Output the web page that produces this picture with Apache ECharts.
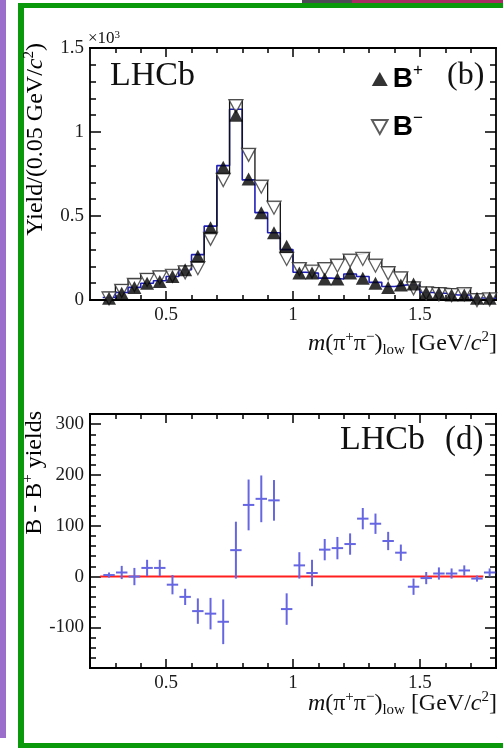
<!DOCTYPE html>
<html>
<head>
<meta charset="utf-8">
<script src="https://cdn.jsdelivr.net/npm/echarts@6/dist/echarts.min.js"></script>
<style>
html,body{margin:0;padding:0;background:#fff;}
#chart{width:503px;height:748px;}
</style>
</head>
<body>
<div id="chart"></div>
<script>
// m(pi+ pi-)_low bin centres, 0.05 GeV/c^2 wide bins
const binCentres = [0.275, 0.325, 0.375, 0.425, 0.475, 0.525, 0.575, 0.625, 0.675, 0.725,
                    0.775, 0.825, 0.875, 0.925, 0.975, 1.025, 1.075, 1.125, 1.175, 1.225,
                    1.275, 1.325, 1.375, 1.425, 1.475, 1.525, 1.575, 1.625, 1.675, 1.725, 1.775];
const binWidth = 0.05;

// Panel (b): yields per bin
const yieldBplus  = [10, 40, 75, 100, 110, 140, 180, 260, 430, 790,
                     1100, 720, 520, 400, 320, 160, 160, 125, 125, 160,
                     130, 100, 75, 90, 95, 45, 40, 30, 30, 10, 10];
const yieldBminus = [45, 90, 125, 155, 170, 180, 200, 225, 400, 750,
                     1190, 900, 710, 585, 280, 220, 205, 220, 240, 270,
                     280, 240, 195, 165, 105, 75, 70, 65, 70, 35, 40];
const fitBplus    = [15, 45, 75, 100, 115, 140, 180, 270, 440, 800,
                     1135, 715, 520, 400, 300, 165, 160, 130, 125, 155,
                     140, 105, 80, 90, 90, 45, 40, 30, 30, 12, 10];

// Panel (d): B- minus B+ yields with uncertainties
const yieldDiff = [3, 8, 0, 17, 17, -16, -40, -68, -73, -89,
                   52, 141, 153, 150, -64, 22, 7, 53, 56, 64,
                   114, 104, 70, 47, -20, -3, 6, 6, 12, -4, 8];
const yieldDiffErr = [5, 13, 17, 16, 16, 19, 16, 25, 31, 44,
                      56, 50, 46, 40, 31, 26, 26, 21, 22, 21,
                      21, 20, 18, 16, 16, 12, 12, 10, 10, 6, 8];
const zeroLine = [[0.24, 0], [1.75, 0]];

// Tick positions
const xMajorTicks = [0.5, 1, 1.5];
const xMinorTicks = [0.3, 0.4, 0.6, 0.7, 0.8, 0.9, 1.1, 1.2, 1.3, 1.4, 1.6, 1.7];
const yDiffMajorTicks = [-100, 0, 100, 200, 300];
const yDiffMinorTicks = [-160, -140, -120, -80, -60, -40, -20, 20, 40, 60, 80,
                         120, 140, 160, 180, 220, 240, 260, 280];

const SERIF = 'Liberation Serif';
const SANS = 'Liberation Sans';
const INK = '#000';

const labelStyle = {fontFamily: SERIF, fontSize: 19, color: '#1c1c1c'};

function tickAxis(base, position, ticks, len, labels) {
  const ax = Object.assign({}, base, {
    position: position,
    splitLine: {show: false},
    axisLine: {show: true, onZero: false, lineStyle: {color: INK, width: 1.8}},
    axisTick: {show: true, inside: true, length: len, customValues: ticks,
               lineStyle: {color: INK, width: 1.5}},
    axisLabel: {show: false}
  });
  if (labels) {
    ax.axisLabel = Object.assign({show: true, customValues: ticks, margin: 6,
                                  formatter: labels}, labelStyle);
  }
  return ax;
}

function xAxesFor(gridIndex) {
  const base = {type: 'value', gridIndex: gridIndex, min: 0.2, max: 1.8};
  const fmt = v => String(v);
  return [
    tickAxis(base, 'bottom', xMajorTicks, 9, fmt),
    tickAxis(base, 'bottom', xMinorTicks, 5),
    tickAxis(base, 'top', xMajorTicks, 9),
    tickAxis(base, 'top', xMinorTicks, 5)
  ];
}

// Top panel y axes: 0..1500 shown in units of 10^3
function yAxesTop() {
  const mk = (position, withLabels) => ({
    type: 'value', gridIndex: 0, min: 0, max: 1500, interval: 500, position: position,
    splitLine: {show: false},
    axisLine: {show: true, onZero: false, lineStyle: {color: INK, width: 1.8}},
    axisTick: {show: true, inside: true, length: 11, lineStyle: {color: INK, width: 1.5}},
    minorTick: {show: true, splitNumber: 5, length: 6, lineStyle: {color: INK, width: 1.5}},
    axisLabel: withLabels
      ? Object.assign({show: true, margin: 6, formatter: v => String(v / 1000)}, labelStyle)
      : {show: false}
  });
  return [mk('left', true), mk('right', false)];
}

function yAxesBottom() {
  const base = {type: 'value', gridIndex: 1, min: -180, max: 320};
  return [
    tickAxis(base, 'left', yDiffMajorTicks, 11, v => String(v)),
    tickAxis(base, 'left', yDiffMinorTicks, 6),
    tickAxis(base, 'right', yDiffMajorTicks, 11),
    tickAxis(base, 'right', yDiffMinorTicks, 6)
  ];
}

function stepPoints(values) {
  const pts = [];
  binCentres.forEach((c, i) => {
    pts.push([c - binWidth / 2, values[i]], [c + binWidth / 2, values[i]]);
  });
  return pts;
}

const titleRich = {
  n:   {fontFamily: SERIF, fontSize: 24, lineHeight: 28, color: '#1a1a1a'},
  it:  {fontFamily: SERIF, fontSize: 24, lineHeight: 28, fontStyle: 'italic', color: '#1a1a1a'},
  sup: {fontFamily: SERIF, fontSize: 15, lineHeight: 12, verticalAlign: 'top', color: '#1a1a1a'},
  sub: {fontFamily: SERIF, fontSize: 15, lineHeight: 11, verticalAlign: 'bottom', color: '#1a1a1a'}
};
const massTitle = '{it|m}{n|(π}{sup|+}{n|π}{sup|−}{n|)}{sub|low}{n| [GeV/}{it|c}{sup|2}{n|]}';

function textEl(x, y, text, extra) {
  return {
    type: 'text', x: x, y: y, z: 10,
    style: Object.assign({text: text, align: 'left', verticalAlign: 'middle',
                          fill: '#111', rich: titleRich}, extra || {})
  };
}

const chart = echarts.init(document.getElementById('chart'), null, {renderer: 'canvas'});

chart.setOption({
  animation: false,
  backgroundColor: '#fff',
  grid: [
    {left: 90, top: 48, width: 406, height: 252},
    {left: 90, top: 414, width: 406, height: 254}
  ],
  xAxis: xAxesFor(0).concat(xAxesFor(1)),
  yAxis: yAxesTop().concat(yAxesBottom()),
  legend: {
    orient: 'vertical', left: 366, top: 57, itemWidth: 16, itemHeight: 14, itemGap: 17,
    data: ['B+', 'B-'],
    formatter: n => n === 'B+' ? '{b|B}{s|+}' : '{b|B}{s|−}',
    textStyle: {
      rich: {
        b: {fontFamily: SANS, fontWeight: 'bold', fontSize: 28, lineHeight: 34, color: '#000'},
        s: {fontFamily: SANS, fontSize: 17, lineHeight: 14, verticalAlign: 'top', color: '#000'}
      }
    }
  },
  series: [
    {
      name: 'B+ fit', type: 'line', xAxisIndex: 0, yAxisIndex: 0,
      data: stepPoints(fitBplus), symbol: 'none', z: 2,
      lineStyle: {color: '#1f1fb8', width: 1.6}
    },
    {
      name: 'B- fit', type: 'line', xAxisIndex: 0, yAxisIndex: 0,
      data: stepPoints(yieldBminus), symbol: 'none', z: 2,
      lineStyle: {color: '#111', width: 1.3}
    },
    {
      name: 'B-', type: 'scatter', xAxisIndex: 0, yAxisIndex: 0,
      data: binCentres.map((c, i) => [c, yieldBminus[i]]),
      symbol: 'path://M0,0 L2,0 L1,1.8 Z', symbolSize: [14, 13], symbolOffset: [0, 6], z: 3,
      itemStyle: {color: '#fff', borderColor: '#333', borderWidth: 1.3}
    },
    {
      name: 'B+', type: 'scatter', xAxisIndex: 0, yAxisIndex: 0,
      data: binCentres.map((c, i) => [c, yieldBplus[i]]),
      symbol: 'triangle', symbolSize: [14, 13], z: 4,
      itemStyle: {color: '#000'}
    },
    {
      name: 'zero', type: 'line', xAxisIndex: 4, yAxisIndex: 4,
      data: zeroLine, symbol: 'none', z: 2,
      lineStyle: {color: '#ff1f1f', width: 2}
    },
    {
      name: 'B- - B+', type: 'custom', xAxisIndex: 4, yAxisIndex: 4, z: 3,
      data: binCentres.map((c, i) => [c, yieldDiff[i], yieldDiffErr[i]]),
      renderItem: function (params, api) {
        const x = api.value(0), y = api.value(1), e = api.value(2);
        const hw = binWidth * 0.45;
        const l = api.coord([x - hw, y]), r = api.coord([x + hw, y]);
        const t = api.coord([x, y + e]), b = api.coord([x, y - e]);
        const st = {stroke: '#6666e2', lineWidth: 2};
        return {
          type: 'group',
          children: [
            {type: 'line', shape: {x1: l[0], y1: l[1], x2: r[0], y2: r[1]}, style: st},
            {type: 'line', shape: {x1: t[0], y1: t[1], x2: b[0], y2: b[1]}, style: st}
          ]
        };
      }
    }
  ],
  graphic: [
    // slide frame
    {type: 'rect', shape: {x: 0, y: 0, width: 6, height: 738}, style: {fill: '#9b6ecb'}, z: 0},
    {type: 'rect', shape: {x: 302, y: 0, width: 50, height: 3}, style: {fill: '#4d4a55'}, z: 0},
    {type: 'rect', shape: {x: 352, y: 0, width: 151, height: 3}, style: {fill: '#a82c62'}, z: 0},
    {type: 'rect', shape: {x: 18, y: 3, width: 6, height: 745}, style: {fill: '#0a990a'}, z: 0},
    {type: 'rect', shape: {x: 18, y: 3, width: 485, height: 5}, style: {fill: '#0a990a'}, z: 0},
    {type: 'rect', shape: {x: 18, y: 743, width: 485, height: 5}, style: {fill: '#0a990a'}, z: 0},

    // panel (b) texts
    textEl(88, 39, '{n|×10}{sup|3}', {rich: {
      n: {fontFamily: SERIF, fontSize: 17, lineHeight: 18, color: '#222'},
      sup: {fontFamily: SERIF, fontSize: 11, lineHeight: 9, verticalAlign: 'top', color: '#222'}
    }}),
    textEl(110, 76, 'LHCb', {font: '34px "Liberation Serif"', fill: '#111'}),
    textEl(447, 76, '(b)', {font: '32px "Liberation Serif"', fill: '#111'}),
    {
      type: 'text', x: 36, y: 43, rotation: Math.PI / 2, z: 10,
      style: {text: '{n|Yield/(0.05 GeV/}{it|c}{sup|2}{n|)}', rich: titleRich,
              align: 'right', verticalAlign: 'middle'}
    },
    textEl(497, 344, massTitle, {align: 'right'}),

    // panel (d) texts
    textEl(340, 440, 'LHCb', {font: '34px "Liberation Serif"', fill: '#111'}),
    textEl(445, 440, '(d)', {font: '33px "Liberation Serif"', fill: '#111'}),
    {
      type: 'text', x: 35, y: 411, rotation: Math.PI / 2, z: 10,
      style: {text: '{n|B - B}{sup|+}{n| yields}', rich: titleRich,
              align: 'right', verticalAlign: 'middle'}
    },
    textEl(497, 704, massTitle, {align: 'right'})
  ]
});
</script>
</body>
</html>
